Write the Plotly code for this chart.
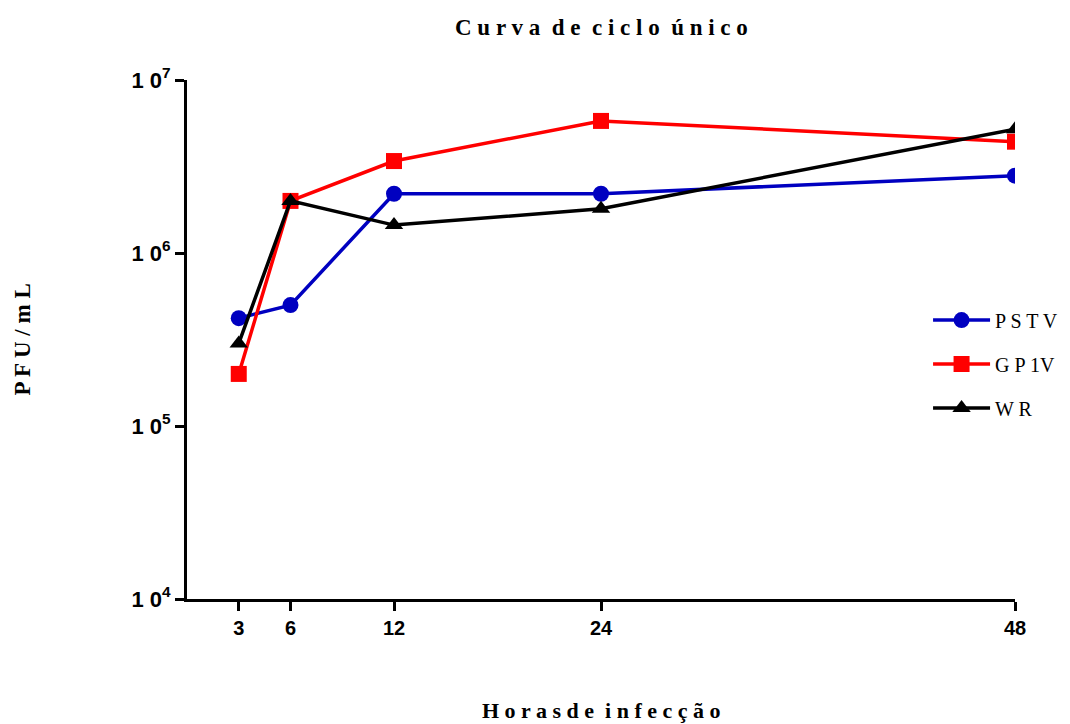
import plotly.graph_objects as go

hours = [3, 6, 12, 24, 48]
pstv = [4.2e5, 5.0e5, 2.2e6, 2.2e6, 2.8e6]
gp1v = [2.0e5, 2.0e6, 3.4e6, 5.8e6, 4.4e6]
wr = [3.0e5, 2.0e6, 1.45e6, 1.8e6, 5.2e6]

series = [
    ("P S T V", pstv, "#0000C0", "circle"),
    ("G P 1V", gp1v, "#FF0000", "square"),
    ("W R", wr, "#000000", "triangle-up"),
]

y_tickvals = [1e4, 1e5, 1e6, 1e7]
y_ticktext = ["1 0<sup>4</sup>", "1 0<sup>5</sup>", "1 0<sup>6</sup>", "1 0<sup>7</sup>"]
x_tickvals = [3, 6, 12, 24, 48]
x_ticktext = ["3", "6", "12", "24", "48"]

fig = go.Figure()
for i, (name, vals, color, sym) in enumerate(series):
    fig.add_trace(go.Scatter(
        x=hours, y=vals, name=name, mode="lines+markers",
        line=dict(color=color, width=3.5),
        marker=dict(symbol=sym, size=16, color=color),
        legendgroup=f"g{i}",
    ))

serif = "Liberation Serif"
fig.update_layout(
    width=1070, height=724,
    paper_bgcolor="white", plot_bgcolor="white",
    margin=dict(l=179, r=63, t=72, b=133),
    showlegend=True,
    legend=dict(
        x=0.895, xanchor="left", y=0.575, yanchor="top",
        font=dict(family=serif, size=20, color="black"),
        tracegroupgap=15, traceorder="grouped", itemwidth=57,
        bgcolor="rgba(0,0,0,0)",
    ),
    annotations=[
        dict(text="<b>C u r v a \u00a0d e \u00a0c i c l o \u00a0ú n i c o</b>",
             xref="paper", yref="paper", x=0.5, y=1, yshift=53,
             xanchor="center", yanchor="middle", showarrow=False,
             font=dict(family=serif, size=23, color="black")),
        dict(text="<b>H o r a s d e \u00a0i n f e c ç ã o</b>",
             xref="paper", yref="paper", x=0.5, y=0, yshift=-111,
             xanchor="center", yanchor="middle", showarrow=False,
             font=dict(family=serif, size=22, color="black")),
        dict(text="<b>P F U / m L</b>", textangle=-90,
             xref="paper", yref="paper", x=0, xshift=-165, y=0.5,
             xanchor="center", yanchor="middle", showarrow=False,
             font=dict(family=serif, size=23, color="black")),
    ],
)

fig.update_xaxes(
    range=[0, 48], tickvals=x_tickvals, ticktext=x_ticktext,
    showline=True, linecolor="black", linewidth=3,
    ticks="outside", ticklen=9, tickwidth=3, tickcolor="black",
    showgrid=False, zeroline=False,
    tickfont=dict(family="Liberation Sans Narrow, Liberation Sans", size=20, color="black", weight="bold"),
)
fig.update_yaxes(
    type="log", range=[4, 7], tickvals=y_tickvals, ticktext=y_ticktext,
    showline=True, linecolor="black", linewidth=3,
    ticks="outside", ticklen=9, tickwidth=3, tickcolor="black",
    showgrid=False, zeroline=False,
    tickfont=dict(family="Liberation Sans", size=22, color="black", weight="bold"),
)

fig.write_html("out.html")
